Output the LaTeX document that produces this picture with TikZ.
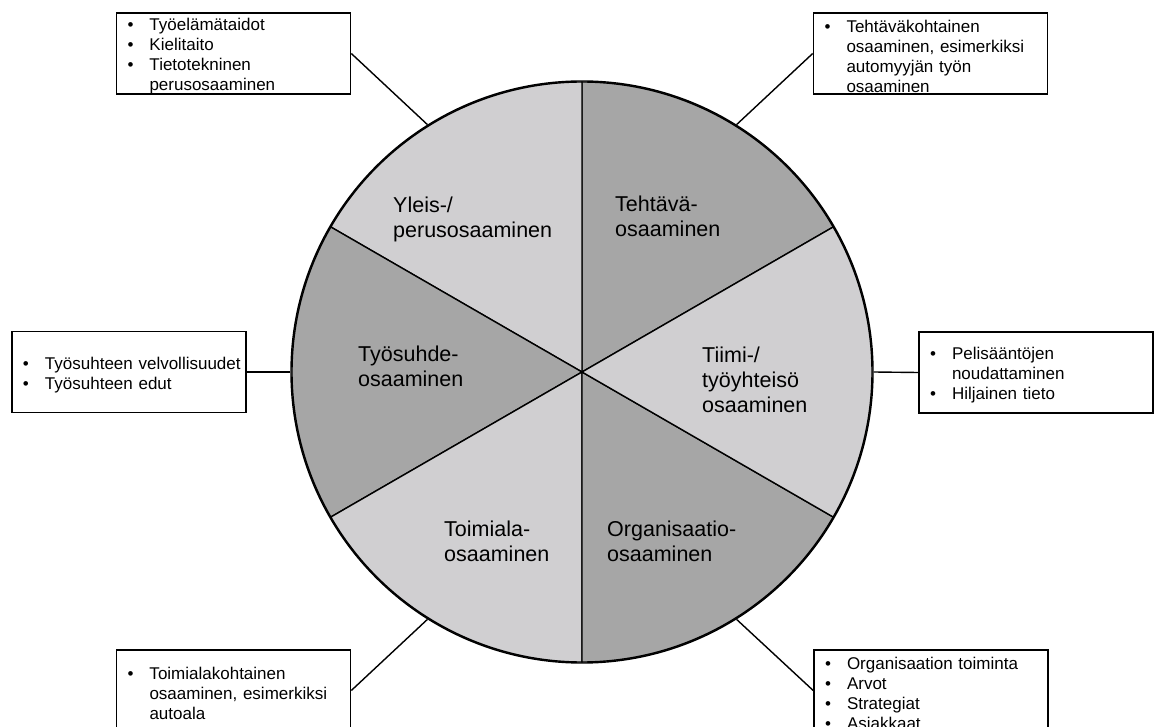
\documentclass[tikz,border=0pt]{standalone}
\usepackage{fontspec}
\setmainfont{Liberation Sans}
\usepackage{tikz}
\definecolor{lite}{RGB}{208,207,209}
\definecolor{dark}{RGB}{166,166,166}
\def\itm{\hspace*{11pt}\makebox[22pt][l]{\textbullet}}
\def\nxt{\hspace*{33pt}}
\tikzset{
  infobox/.style={draw, line width=1.6pt, text width=234pt, minimum height=81pt,
    inner sep=0pt, align=left, font=\fontsize{17}{20}\selectfont,
    execute at begin node={\rule{0pt}{18pt}}},
  sector/.style={align=left, anchor=base west, inner sep=0pt,
    font=\fontsize{21.5}{25}\selectfont}
}

\begin{document}
\begin{tikzpicture}[x=1pt,y=1pt]
                \useasboundingbox (0,0) rectangle (1156,726);
                \clip (0,0) rectangle (1156,726);
                \coordinate (c) at (582,354);
                \foreach \a/\f in {30/dark,90/lite,150/dark,210/lite,270/dark,330/lite}
                    \filldraw[fill=\f, line width=1.4pt] (c) -- ++(\a:290)
                        arc[start angle=\a, delta angle=60, radius=290] -- cycle;
                \node[circle, draw, line width=1.4pt, minimum size=582pt, inner sep=0pt] (wheel) at (c) {};

                \node[sector] (yleis) at (393,488) {Yleis-/\\perusosaaminen};
                \node[sector] (teht)  at (615,489) {Tehtävä-\\osaaminen};
                \node[sector] (tyos)  at (358,339) {Työsuhde-\\osaaminen};
                \node[sector] (tiimi) at (702,313) {Tiimi-/\\työyhteisö\\osaaminen};
                \node[sector] (toim)  at (444,165) {Toimiala-\\osaaminen};
                \node[sector] (org)   at (607,165) {Organisaatio-\\osaaminen};

                \node[infobox] (ylbox) at (233.5,672.5) {\itm Työelämätaidot\\ \itm Kielitaito\\
                    \itm Tietotekninen\\ \nxt perusosaaminen};
                \node[infobox] (tebox) at (930.5,672.5) {\itm Tehtäväkohtainen\\ \nxt osaaminen, esimerkiksi\\
                    \nxt automyyjän työn\\ \nxt osaaminen};
                \node[infobox] (tybox) at (129,354) {\itm Työsuhteen velvollisuudet\\ \itm Työsuhteen edut};
                \node[infobox] (tibox) at (1036,353.5) {\itm Pelisääntöjen\\ \nxt noudattaminen\\
                    \itm Hiljainen tieto};
                \node[infobox] (tobox) at (233.5,35.5) {\itm Toimialakohtainen\\ \nxt osaaminen, esimerkiksi\\
                    \nxt autoala};
                \node[infobox] (orbox) at (931,35.5) {\itm Organisaation toiminta\\ \itm Arvot\\
                    \itm Strategiat\\ \itm Asiakkaat};

                \draw[line width=1.4pt] (wheel.122) -- (ylbox.east);
                \draw[line width=1.4pt] (wheel.58)  -- (tebox.west);
                \draw[line width=1.4pt] (wheel.180) -- (tybox.east);
                \draw[line width=1.4pt] (wheel.0)   -- (tibox.west);
                \draw[line width=1.4pt] (wheel.238) -- (tobox.east);
                \draw[line width=1.4pt] (wheel.302) -- (orbox.west);
            \end{tikzpicture}
\end{document}
